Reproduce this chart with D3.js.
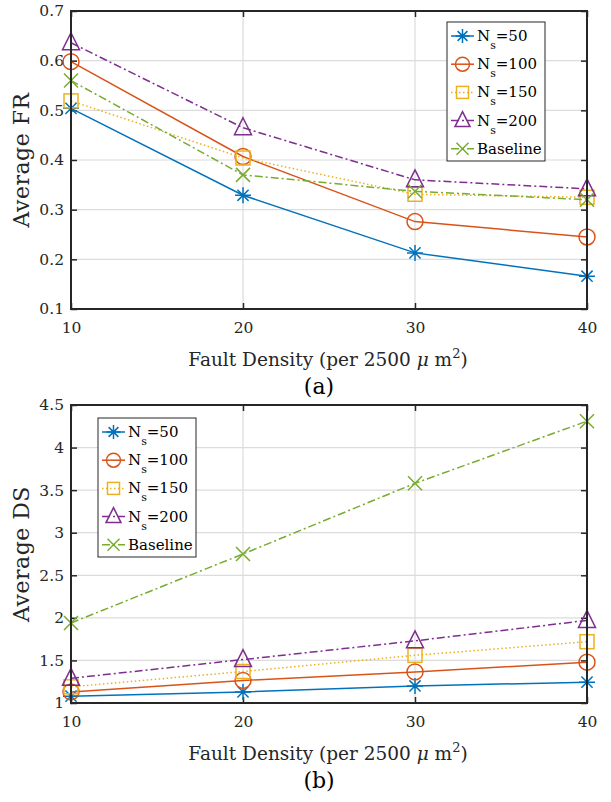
<!DOCTYPE html>
<html><head><meta charset="utf-8">
<script src="https://cdn.jsdelivr.net/npm/d3@7"></script>
<style>body{margin:0;background:#fff}svg{display:block}</style>
</head><body>
<script>
const xValues = [10, 20, 30, 40];
const seriesNames = ["50", "100", "150", "200", "Baseline"];
const frNs50 = [0.504, 0.329, 0.213, 0.166];
const frNs100 = [0.598, 0.407, 0.276, 0.245];
const frNs150 = [0.519, 0.404, 0.331, 0.325];
const frNs200 = [0.636, 0.465, 0.360, 0.342];
const frBaseline = [0.560, 0.370, 0.337, 0.320];
const dsNs50 = [1.08, 1.13, 1.20, 1.245];
const dsNs100 = [1.13, 1.265, 1.365, 1.48];
const dsNs150 = [1.19, 1.37, 1.56, 1.72];
const dsNs200 = [1.29, 1.51, 1.73, 1.97];
const dsBaseline = [1.94, 2.75, 3.58, 4.31];
const frTicks = [0.1, 0.2, 0.3, 0.4, 0.5, 0.6, 0.7];
const dsTicks = [1, 1.5, 2, 2.5, 3, 3.5, 4, 4.5];
const xTicks = [10, 20, 30, 40];

const colors = ["#0072BD", "#D95319", "#EDB120", "#7E2F8E", "#77AC30"];
const dashes = [null, null, "1.5,2.5", "8,3,2,3", "8,3,2,3"];
const markers = ["asterisk", "circle", "square", "triangle", "cross"];
const FONT = "'DejaVu Serif', serif";
const TXT = "#262626";

const svg = d3.select("body").append("svg").attr("width", 611).attr("height", 802);

function marker(g, type, x, y, color, s) {
  const m = g.append("g").attr("transform", `translate(${x},${y})`)
    .attr("fill", "none").attr("stroke", color).attr("stroke-width", 1.5);
  if (type === "circle") m.append("circle").attr("r", s);
  else if (type === "square") m.append("rect").attr("x", -s + 1).attr("y", -s + 1).attr("width", 2 * s - 2).attr("height", 2 * s - 2);
  else if (type === "triangle") m.append("path").attr("d", `M0,${-s - 2}L${s + 0.5},${s - 1}L${-s - 0.5},${s - 1}Z`);
  else if (type === "cross") m.append("path").attr("d", `M${-s + 1},${-s + 1}L${s - 1},${s - 1}M${-s + 1},${s - 1}L${s - 1},${-s + 1}`);
  else if (type === "asterisk") {
    const k = s * 0.7;
    m.append("path").attr("d", `M0,${-s}L0,${s}M${-s},0L${s},0M${-k},${-k}L${k},${k}M${-k},${k}L${k},${-k}`);
  }
}

function panel(cfg) {
  const { left, right, top, bottom, domain, ticks, series, ylabel, tag, legend, tickFmt } = cfg;
  const x = d3.scaleLinear().domain([10, 40]).range([left, right]);
  const y = d3.scaleLinear().domain(domain).range([bottom, top]);
  const g = svg.append("g");
  g.append("g").selectAll("line").data(ticks).join("line")
    .attr("x1", left).attr("x2", right).attr("y1", d => y(d)).attr("y2", d => y(d))
    .attr("stroke", "#dcdcdc").attr("stroke-width", 1.2);
  g.append("g").selectAll("line").data(xTicks).join("line")
    .attr("y1", top).attr("y2", bottom).attr("x1", d => x(d)).attr("x2", d => x(d))
    .attr("stroke", "#dcdcdc").attr("stroke-width", 1.2);
  const axL = d3.axisLeft(y).tickValues(ticks).tickSize(-6).tickPadding(7).tickFormat(tickFmt);
  const axR = d3.axisRight(y).tickValues(ticks).tickSize(-6).tickFormat("");
  const axB = d3.axisBottom(x).tickValues(xTicks).tickSize(-6).tickPadding(13).tickFormat(d3.format("d"));
  const axT = d3.axisTop(x).tickValues(xTicks).tickSize(-6).tickFormat("");
  const style = sel => {
    sel.selectAll(".domain").remove();
    sel.selectAll("line").attr("stroke", "#262626").attr("stroke-width", 1.5);
    sel.selectAll("text").attr("font-family", FONT).attr("font-size", 15.5).attr("fill", TXT);
  };
  g.append("g").attr("transform", `translate(${left},0)`).call(axL).call(style);
  g.append("g").attr("transform", `translate(${right},0)`).call(axR).call(style);
  g.append("g").attr("transform", `translate(0,${bottom})`).call(axB).call(style);
  g.append("g").attr("transform", `translate(0,${top})`).call(axT).call(style);
  series.forEach((vals, i) => {
    const line = d3.line().x((d, j) => x(xValues[j])).y(d => y(d));
    g.append("path").datum(vals).attr("d", line).attr("fill", "none")
      .attr("stroke", colors[i]).attr("stroke-width", 1.5)
      .attr("stroke-dasharray", dashes[i]);
    vals.forEach((v, j) => marker(g, markers[i], x(xValues[j]), y(v), colors[i], 8));
  });
  g.append("rect").attr("x", left).attr("y", top).attr("width", right - left).attr("height", bottom - top)
    .attr("fill", "none").attr("stroke", "#262626").attr("stroke-width", 2);
  g.append("text").attr("transform", `translate(${left - 42},${(top + bottom) / 2}) rotate(-90)`)
    .attr("text-anchor", "middle").attr("font-family", FONT).attr("font-size", 22)
    .attr("letter-spacing", 0.5).attr("fill", TXT).text(ylabel);
  const xt = g.append("text").attr("x", (left + right) / 2 - 1).attr("y", bottom + 57)
    .attr("text-anchor", "middle").attr("font-family", FONT).attr("font-size", 18.5).attr("fill", TXT);
  xt.append("tspan").text("Fault Density (per 2500 ");
  xt.append("tspan").attr("font-style", "italic").text("μ");
  xt.append("tspan").text(" m");
  xt.append("tspan").attr("dy", -8).attr("font-size", 13).text("2");
  xt.append("tspan").attr("dy", 8).text(")");
  g.append("text").attr("x", (left + right) / 2 - 10).attr("y", bottom + 85)
    .attr("text-anchor", "middle").attr("font-family", FONT).attr("font-size", 22).attr("fill", "#000").text(tag);
  const lg = g.append("g").attr("transform", `translate(${legend.x},${legend.y})`);
  lg.append("rect").attr("width", legend.w).attr("height", legend.h).attr("fill", "#fff")
    .attr("stroke", "#262626").attr("stroke-width", 1);
  seriesNames.forEach((name, i) => {
    const yy = 14 + i * 28.2;
    lg.append("line").attr("x1", 4).attr("x2", 27).attr("y1", yy).attr("y2", yy)
      .attr("stroke", colors[i]).attr("stroke-width", 1.5).attr("stroke-dasharray", dashes[i]);
    marker(lg, markers[i], 15.5, yy, colors[i], 7);
    const t = lg.append("text").attr("x", 30).attr("y", yy + 5).attr("font-family", FONT)
      .attr("font-size", 15).attr("fill", "#000");
    if (name === "Baseline") t.text("Baseline");
    else {
      t.append("tspan").text("N");
      t.append("tspan").attr("dy", 8).attr("font-size", 11).text("s");
      t.append("tspan").attr("dy", -8).text("=" + name);
    }
  });
}

panel({
  left: 71, right: 587, top: 11, bottom: 309, domain: [0.1, 0.7], ticks: frTicks,
  series: [frNs50, frNs100, frNs150, frNs200, frBaseline], ylabel: "Average FR", tag: "(a)",
  legend: { x: 447, y: 22, w: 98, h: 139 }, tickFmt: d3.format(".1f")
});
panel({
  left: 71, right: 587, top: 405, bottom: 703, domain: [1, 4.5], ticks: dsTicks,
  series: [dsNs50, dsNs100, dsNs150, dsNs200, dsBaseline], ylabel: "Average DS", tag: "(b)",
  legend: { x: 98, y: 418, w: 98, h: 139 }, tickFmt: d => String(d)
});
</script>
</body></html>
